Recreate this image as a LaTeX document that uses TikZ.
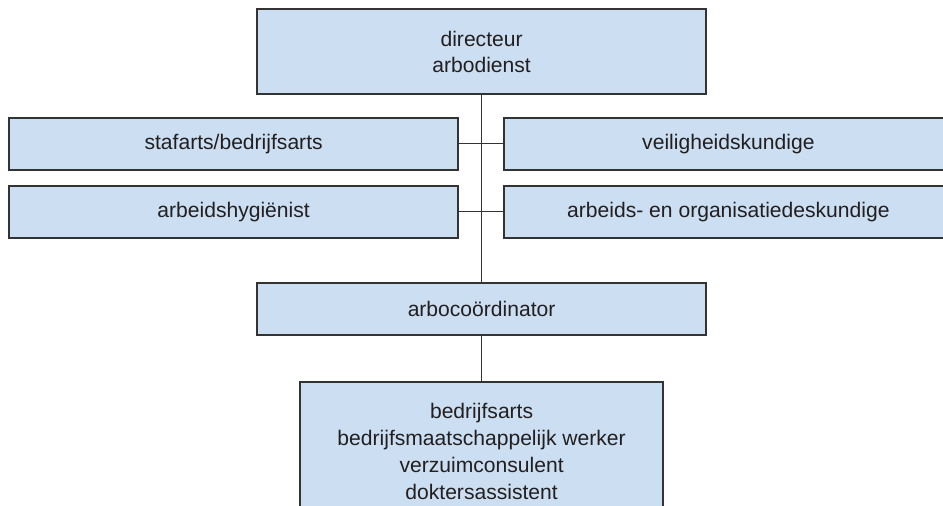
\documentclass[tikz,border=0pt]{standalone}
\usepackage{fontspec}
\setmainfont{Liberation Sans}
\usetikzlibrary{positioning}
\definecolor{boxfill}{HTML}{CCDFF2}
\definecolor{boxline}{HTML}{333333}
\definecolor{textgray}{HTML}{231F20}

\begin{document}
\begin{tikzpicture}[every node/.style={font=\fontsize{15}{18.5}\selectfont, text=textgray},
  unit/.style={draw=boxline, line width=0.9pt, fill=boxfill, minimum width=11.225cm, align=center, inner sep=0pt},
  link/.style={draw=boxline, line width=0.7pt}]
  \clip (0,0) rectangle (23.575,12.65);
  \node[unit, minimum height=2.125cm] (dir) at (12.04,11.36) {directeur\\arbodienst};
  \node[unit, minimum height=1.3cm] (staf) at (5.84,9.05) {stafarts/bedrijfsarts};
  \node[unit, minimum height=1.3cm] (hyg) at (5.84,7.35) {arbeidshygiënist};
  \node[unit, minimum height=1.3cm] (veil) at (18.21,9.05) {veiligheidskundige};
  \node[unit, minimum height=1.3cm] (ao) at (18.21,7.35) {arbeids- en organisatiedeskundige};
  \node[unit, minimum height=1.3cm] (arbo) at (12.04,4.925) {arbocoördinator};
  \node[unit, minimum width=9.075cm, minimum height=3.45cm, font=\fontsize{15}{19.2}\selectfont] (team) at (12.04,1.375)
    {bedrijfsarts\\bedrijfsmaatschappelijk werker\\verzuimconsulent\\doktersassistent};
  \draw[link, line width=1pt] (dir.south) -- (arbo.north);
  \draw[link] (staf.east) -- (veil.west);
  \draw[link] (hyg.east) -- (ao.west);
  \draw[link] (arbo.south) -- (team.north);
\end{tikzpicture}
\end{document}
